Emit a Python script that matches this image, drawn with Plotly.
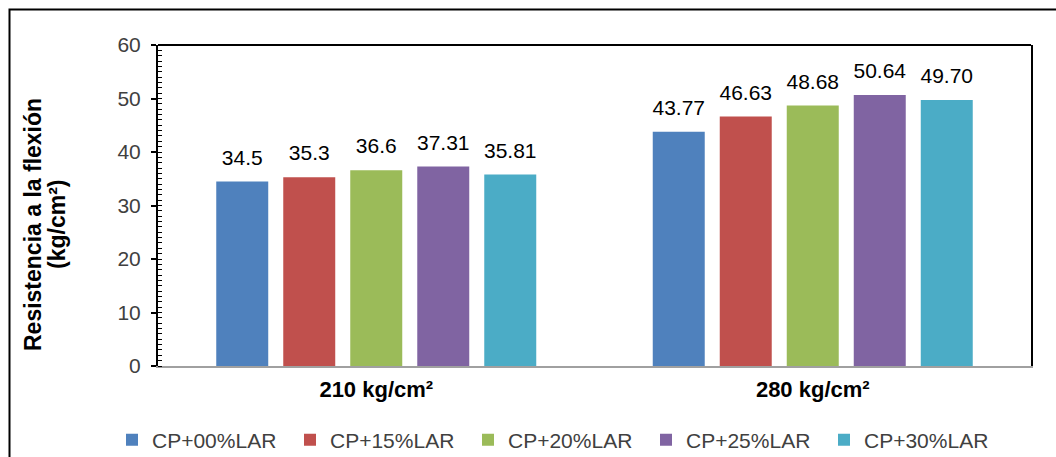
import plotly.graph_objects as go

categories = ["210 kg/cm²", "280 kg/cm²"]
series_names = ["CP+00%LAR", "CP+15%LAR", "CP+20%LAR", "CP+25%LAR", "CP+30%LAR"]
values_00 = [34.5, 43.77]
values_15 = [35.3, 46.63]
values_20 = [36.6, 48.68]
values_25 = [37.31, 50.64]
values_30 = [35.81, 49.70]
labels_00 = ["34.5", "43.77"]
labels_15 = ["35.3", "46.63"]
labels_20 = ["36.6", "48.68"]
labels_25 = ["37.31", "50.64"]
labels_30 = ["35.81", "49.70"]
colors = ["#4F81BD", "#C0504D", "#9BBB59", "#8064A2", "#4BACC6"]
y_ticks = [0, 10, 20, 30, 40, 50, 60]
y_title_lines = ["Resistencia a la flexión", "(kg/cm²)"]

series_values = [values_00, values_15, values_20, values_25, values_30]
series_labels = [labels_00, labels_15, labels_20, labels_25, labels_30]

FONT = "Liberation Sans, Arial, sans-serif"
fig = go.Figure()

for name, vals, col in zip(series_names, series_values, colors):
    fig.add_trace(go.Bar(
        x=categories, y=vals, name=name, offsetgroup=name,
        marker=dict(color=col, line=dict(width=0)),
    ))

for name, vals, labs in zip(series_names, series_values, series_labels):
    fig.add_trace(go.Scatter(
        x=categories, y=vals, text=labs, mode="markers+text",
        textposition="top center", offsetgroup=name,
        marker=dict(size=17, opacity=0),
        textfont=dict(size=21, color="#000000", family=FONT),
        showlegend=False, hoverinfo="skip", cliponaxis=False,
    ))

L, R, T, B = 158, 25, 45, 91
W, H = 1056, 457
pw, ph = W - L - R, H - T - B

fig.update_layout(
    width=W, height=H,
    margin=dict(l=L, r=R, t=T, b=B, autoexpand=False),
    paper_bgcolor="white", plot_bgcolor="white",
    barmode="group", bargap=0.2325, bargroupgap=0.224,
    scattermode="group", scattergap=0.2325,
    font=dict(family=FONT, size=21, color="#404040"),
    showlegend=True,
    legend=dict(
        orientation="h", x=(112 - L) / pw, xanchor="left",
        y=-(440 - (H - B)) / ph, yanchor="middle",
        font=dict(size=21, color="#404040"),
        traceorder="normal", itemwidth=30,
        entrywidth=133, entrywidthmode="pixels",
    ),
)

fig.update_xaxes(
    type="category", showgrid=False, zeroline=False, automargin=False,
    showline=True, linecolor="#A0A0A0", linewidth=2,
    ticks="", ticklabelstandoff=3,
    tickfont=dict(size=22, color="#000000", family="Liberation Sans, Arial", weight="bold"),
)
fig.update_yaxes(
    range=[0, 60], tickvals=y_ticks, showgrid=False, zeroline=False, automargin=False,
    showline=True, linecolor="#000000", linewidth=2, mirror=True,
    ticks="outside", ticklen=5, tickwidth=2, tickcolor="#000000",
    ticklabelstandoff=6,
    minor=dict(dtick=1, ticks="inside", ticklen=4, tickwidth=1, tickcolor="#000000"),
    tickfont=dict(size=21, color="#404040"),
)

# top frame line of plot area
fig.add_shape(type="line", xref="paper", yref="paper", x0=0, x1=1, y0=1, y1=1,
              line=dict(color="#000000", width=2))
# outer chart border (top-left visible part)
fig.add_shape(type="rect", xref="paper", yref="paper",
              x0=(9.5 - L) / pw, x1=1.3, y0=-1.0, y1=((H - B) - 9.5) / ph,
              line=dict(color="#000000", width=2), fillcolor="rgba(0,0,0,0)", layer="above")

for line_text, cx in zip(y_title_lines, [33, 57]):
    fig.add_annotation(
        text=line_text, xref="paper", yref="paper",
        x=(cx - L) / pw, y=((H - B) - 225) / ph, xanchor="center", yanchor="middle",
        textangle=-90, showarrow=False,
        font=dict(size=23, color="#000000", family="Liberation Sans, Arial", weight="bold"),
    )

fig.write_html(
    "out.html",
    config={"displayModeBar": False},
    post_script="document.body.style.margin='0';document.body.style.overflow='hidden';",
)
